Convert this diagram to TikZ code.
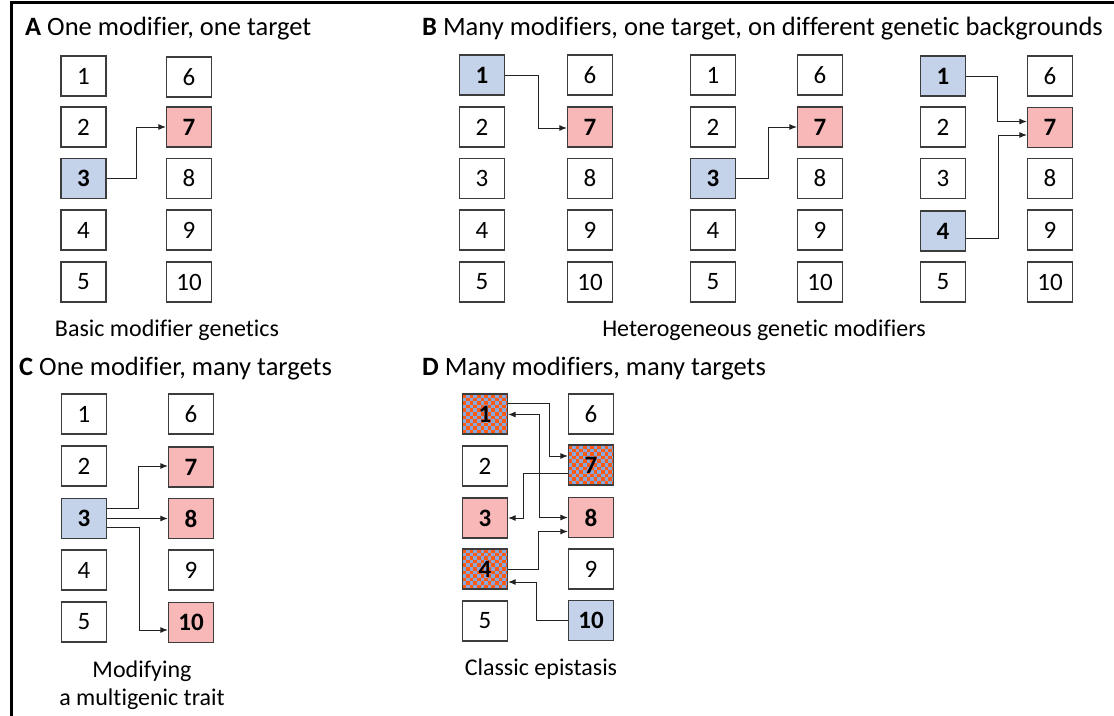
\documentclass[tikz,border=0pt]{standalone}
\usepackage{fontspec}
\setmainfont{Carlito}[Ligatures=NoCommon]
\usetikzlibrary{arrows.meta,calc}

\definecolor{boxline}{HTML}{3C3C3C}
\definecolor{modblue}{HTML}{C5D3EA}
\definecolor{tgtpink}{HTML}{F8B8B8}
\definecolor{chkblue}{HTML}{8BA6D8}
\definecolor{chkorange}{HTML}{FF5A14}
\definecolor{wireclr}{HTML}{222222}

\newcommand{\genefont}{\fontsize{25}{27}\selectfont}
\newcommand{\titlefont}{\fontsize{26.5}{30}\selectfont}
\newcommand{\capfont}{\fontsize{24}{28}\selectfont}

\tikzset{
  gene/.style={draw=boxline, line width=1.2pt, fill=white,
    minimum width=45pt, minimum height=40pt, inner sep=0pt,
    font=\genefont},
  modgene/.style={gene, fill=modblue, font=\genefont\bfseries},
  tgtgene/.style={gene, fill=tgtpink, font=\genefont\bfseries},
  mixgene/.style={gene, font=\genefont\bfseries,
    path picture={
      \fill[chkblue] (path picture bounding box.south west)
        rectangle (path picture bounding box.north east);
      \foreach \ci in {0,...,12}{
        \foreach \cj in {0,...,11}{
          \pgfmathtruncatemacro\chkpar{mod(\ci+\cj,2)}
          \ifnum\chkpar=0
            \fill[chkorange]
              ($(path picture bounding box.north west)+(\ci*3.6pt,-\cj*3.6pt)$)
              rectangle ++(3.6pt,-3.6pt);
          \fi
        }
      }
    }},
  wire/.style={draw=wireclr, line width=1pt},
  arr/.style={wire, -{Latex[length=7.5pt,width=6pt]}},
  dblarr/.style={wire, {Latex[length=7.5pt,width=6pt]}-{Latex[length=7.5pt,width=6pt]}},
  paneltitle/.style={anchor=base west, inner sep=0pt, font=\titlefont},
  caption/.style={anchor=base, inner sep=0pt, font=\capfont, align=center},
}

\begin{document}
\begin{tikzpicture}[x={(1pt,0)}, y={(0,-1pt)}]
\useasboundingbox (0,0) rectangle (1114,715);

% outer frame (left and top edges)
\draw[black, line width=3pt] (11.5,720) -- (11.5,2) -- (1120,2);

% ---------------- panel titles ----------------
\node[paneltitle] (tA) at (25,35) {\textbf{A} One modifier, one target};
\node[paneltitle] (tB) at (422,35) {\textbf{B} Many modifiers, one target, on different genetic backgrounds};
\node[paneltitle] (tC) at (19,375) {\textbf{C} One modifier, many targets};
\node[paneltitle] (tD) at (422,375) {\textbf{D} Many modifiers, many targets};

% ---------------- panel A ----------------
\node[gene]    (a1)  at (83.5,76)   {1};
\node[gene]    (a2)  at (83.5,127)  {2};
\node[modgene] (a3)  at (83.5,178.5){3};
\node[gene]    (a4)  at (83.5,230)  {4};
\node[gene]    (a5)  at (83.5,282)  {5};
\node[gene]    (a6)  at (189,77)    {6};
\node[tgtgene] (a7)  at (189,127)   {7};
\node[gene]    (a8)  at (189,178.5) {8};
\node[gene]    (a9)  at (189,230)   {9};
\node[gene]    (a10) at (189,282)   {10};
\draw[arr] (a3.east) -- ++(30,0) |- (a7.west);
\node[caption] (capA) at (167,336) {Basic modifier genetics};

% ---------------- panel B, background 1 ----------------
\node[modgene] (b1)  at (482,75)    {1};
\node[gene]    (b2)  at (482,127)   {2};
\node[gene]    (b3)  at (482,178.5) {3};
\node[gene]    (b4)  at (482,230)   {4};
\node[gene]    (b5)  at (482,282)   {5};
\node[gene]    (b6)  at (590,75)    {6};
\node[tgtgene] (b7)  at (590,127)   {7};
\node[gene]    (b8)  at (590,178.5) {8};
\node[gene]    (b9)  at (590,230)   {9};
\node[gene]    (b10) at (590,282)   {10};
\draw[arr] (b1.east) -- ++(33,0) |- ([yshift=-1pt]b7.west);

% ---------------- panel B, background 2 ----------------
\node[gene]    (c1)  at (713,75)    {1};
\node[gene]    (c2)  at (713,127)   {2};
\node[modgene] (c3)  at (713,178.5) {3};
\node[gene]    (c4)  at (713,230)   {4};
\node[gene]    (c5)  at (713,282)   {5};
\node[gene]    (c6)  at (820,75)    {6};
\node[tgtgene] (c7)  at (820,127)   {7};
\node[gene]    (c8)  at (820,178.5) {8};
\node[gene]    (c9)  at (820,230)   {9};
\node[gene]    (c10) at (820,282)   {10};
\draw[arr] (c3.east) -- ++(32,0) |- (c7.west);

% ---------------- panel B, background 3 ----------------
\node[modgene] (d1)  at (943,76)    {1};
\node[gene]    (d2)  at (943,127)   {2};
\node[gene]    (d3)  at (943,178.5) {3};
\node[modgene] (d4)  at (943,231)   {4};
\node[gene]    (d5)  at (943,282)   {5};
\node[gene]    (d6)  at (1050,76)   {6};
\node[tgtgene] (d7)  at (1050,127.5){7};
\node[gene]    (d8)  at (1050,178.5){8};
\node[gene]    (d9)  at (1050,230)  {9};
\node[gene]    (d10) at (1050,282)  {10};
\draw[arr] (d1.east) -- ++(31,0) |- ([yshift=6pt]d7.west);
\draw[arr] ([yshift=-7pt]d4.east) -- ++(32,0) |- ([yshift=-7.5pt]d7.west);
\node[caption] (capB) at (764,336) {Heterogeneous genetic modifiers};

% ---------------- panel C ----------------
\node[gene]    (e1)  at (84,414)    {1};
\node[gene]    (e2)  at (84,466)    {2};
\node[modgene] (e3)  at (84,518.5)  {3};
\node[gene]    (e4)  at (84,570)    {4};
\node[gene]    (e5)  at (84,622)    {5};
\node[gene]    (e6)  at (191,414)   {6};
\node[tgtgene] (e7)  at (191,467)   {7};
\node[tgtgene] (e8)  at (191,518.5) {8};
\node[gene]    (e9)  at (191,570)   {9};
\node[tgtgene] (e10) at (191,622.5) {10};
\draw[arr] ([yshift=10.5pt]e3.east) -- ++(31,0) |- ([yshift=1pt]e7.west);
\draw[arr] (e3.east) -- (e8.west);
\draw[arr] ([yshift=-8.5pt]e3.east) -- ++(32,0) |- ([yshift=-7.5pt]e10.west);
\node[caption] (capC) at (142,705) {Modifying\\a multigenic trait};

% ---------------- panel D ----------------
\node[mixgene] (f1)  at (485,414)   {1};
\node[gene]    (f2)  at (485,466)   {2};
\node[tgtgene] (f3)  at (485,518)   {3};
\node[mixgene] (f4)  at (485,569)   {4};
\node[gene]    (f5)  at (485,621)   {5};
\node[gene]    (f6)  at (591,414)   {6};
\node[mixgene] (f7)  at (591,465)   {7};
\node[tgtgene] (f8)  at (591,517.5) {8};
\node[gene]    (f9)  at (591,569)   {9};
\node[modgene] (f10) at (591,620.5) {10};
\draw[arr] ([yshift=11pt]f1.east) -- ++(41,0) |- ([yshift=9pt]f7.west);
\draw[dblarr] ([yshift=-0.5pt]f1.east) -- ++(31,0) |- (f8.west);
\draw[arr] ([yshift=-8pt]f7.west) -- ++(-44,0) |- (f3.east);
\draw[arr] (f4.east) -- ++(30,0) |- ([yshift=-14pt]f8.west);
\draw[arr] (f10.west) -- ++(-31,0) |- ([yshift=-13pt]f4.east);
\node[caption] (capD) at (541,675) {Classic epistasis};

\end{tikzpicture}
\end{document}
